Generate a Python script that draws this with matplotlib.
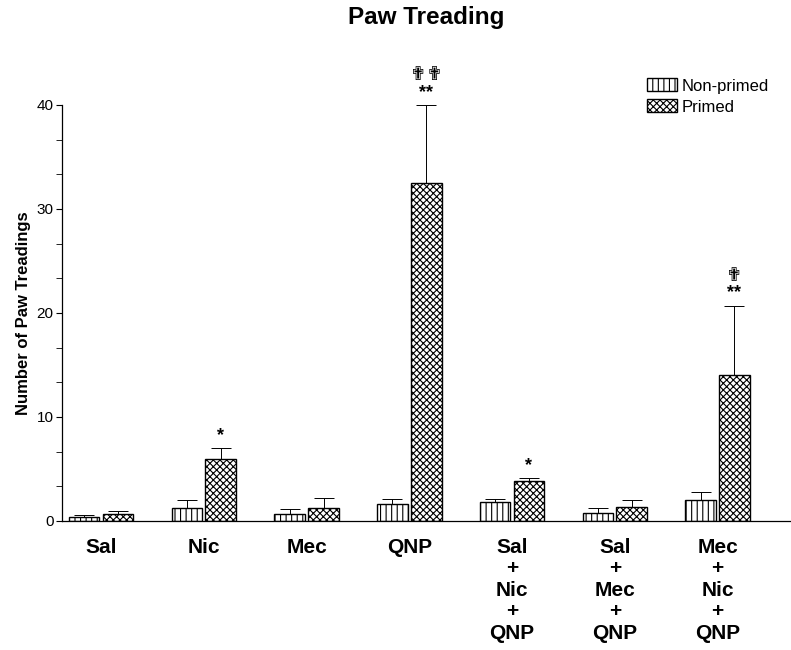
import numpy as np
import matplotlib.pyplot as plt
from matplotlib.patches import Patch
from matplotlib.ticker import MultipleLocator

plt.rcParams['font.family'] = ['Liberation Sans', 'DejaVu Sans']
plt.rcParams['hatch.linewidth'] = 0.8

groups = ['Sal', 'Nic', 'Mec', 'QNP',
          'Sal\n+\nNic\n+\nQNP', 'Sal\n+\nMec\n+\nQNP', 'Mec\n+\nNic\n+\nQNP']
nonprimed = [0.42, 1.28, 0.71, 1.67, 1.79, 0.74, 2.0]
nonprimed_sem = [0.19, 0.71, 0.41, 0.48, 0.29, 0.48, 0.8]
primed = [0.71, 5.93, 1.28, 32.5, 3.85, 1.38, 14.0]
primed_sem = [0.28, 1.06, 0.9, 7.5, 0.25, 0.64, 6.7]

# significance marks over the primed bars
stars = ['', '*', '', '**', '*', '', '**']
crosses = ['', '', '', '\u271f\u271f', '', '', '\u271f']

x = np.arange(len(groups))
w = 0.297
off = 0.165

fig = plt.figure(figsize=(7.91, 6.5), dpi=100)
ax = fig.add_axes([0.0784, 0.1985, 0.9216, 0.6400])

ax.bar(x - off, nonprimed, w, color='white', edgecolor='black',
       linewidth=1.0, hatch='|||', label='Non-primed')
ax.bar(x + off, primed, w, color='white', edgecolor='black',
       linewidth=1.0, hatch='xxxxx', label='Primed')

# upper error bars only
ax.errorbar(x - off, nonprimed, yerr=[np.zeros(len(x)), nonprimed_sem],
            fmt='none', ecolor='black', elinewidth=0.7, capsize=7, capthick=0.7)
ax.errorbar(x + off, primed, yerr=[np.zeros(len(x)), primed_sem],
            fmt='none', ecolor='black', elinewidth=0.7, capsize=7, capthick=0.7)

for i in range(len(x)):
    top = primed[i] + primed_sem[i]
    if stars[i]:
        ax.annotate(stars[i], (x[i] + off, top), xytext=(0, 3),
                    textcoords='offset points', ha='center', va='bottom',
                    fontsize=13, fontweight='bold', annotation_clip=False)
    if crosses[i]:
        ax.annotate(crosses[i], (x[i] + off, top), xytext=(0, 15),
                    textcoords='offset points', ha='center', va='bottom',
                    fontsize=14, family='DejaVu Sans', annotation_clip=False)

ax.set_xlim(-0.38, 6.715)
ax.set_ylim(0, 40)
ax.yaxis.set_major_locator(MultipleLocator(10))
ax.yaxis.set_minor_locator(MultipleLocator(10 / 3))
ax.tick_params(axis='y', which='major', length=4, width=0.8, labelsize=11, pad=2)
ax.tick_params(axis='y', which='minor', length=4, width=0.6)
ax.tick_params(axis='x', length=0, pad=12)
ax.set_xticks(x)
ax.set_xticklabels(groups, fontsize=15, fontweight='bold', linespacing=1.17, va='top')

for s in ['top', 'right']:
    ax.spines[s].set_visible(False)
ax.spines['left'].set_linewidth(0.9)
ax.spines['bottom'].set_linewidth(0.9)

ax.set_ylabel('Number of Paw Treadings', fontsize=12, fontweight='bold', labelpad=4)
ax.set_title('Paw Treading', fontsize=17.5, fontweight='bold', pad=58)

handles = [Patch(facecolor='white', edgecolor='black', hatch='|||', label='Non-primed'),
           Patch(facecolor='white', edgecolor='black', hatch='xxxxx', label='Primed')]
ax.legend(handles=handles, loc='upper left', bbox_to_anchor=(0.782, 1.1),
          frameon=False, fontsize=12, handlelength=1.8, handleheight=0.8,
          handletextpad=0.3, labelspacing=0.35)

fig.savefig('out.png', dpi=100)
